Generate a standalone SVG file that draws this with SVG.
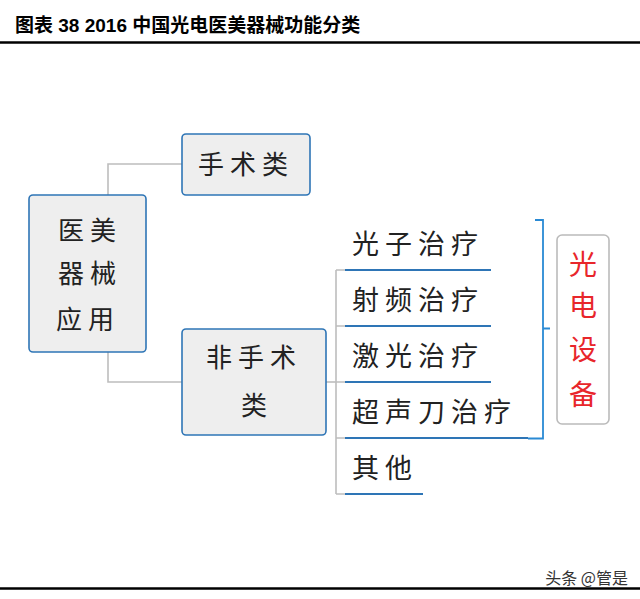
<svg xmlns="http://www.w3.org/2000/svg" width="640" height="599" viewBox="0 0 640 599">
<style>
.title{font-family:"Liberation Sans","Noto Sans CJK SC",sans-serif;font-weight:bold;font-size:19px;fill:#000}
.node rect{fill:#eeeeee;stroke:#2e75b6;stroke-width:1.6}
.t{font-family:"Noto Sans CJK SC",sans-serif;font-size:26px;fill:#222;letter-spacing:6px}
.leaf{font-family:"Noto Sans CJK SC",sans-serif;font-size:27px;fill:#222;letter-spacing:6px}
.red{font-family:"Noto Sans CJK SC",sans-serif;font-size:28px;fill:#e8262b;text-anchor:middle}
.gray{fill:none;stroke:#bdbdbd;stroke-width:1.6}
.blue{fill:none;stroke:#2e75b6;stroke-width:1.8}
.br{fill:none;stroke:#2a8ad4;stroke-width:1.8}
</style>
<rect width="640" height="599" fill="#fff"/>
<text class="title" x="15" y="32">图表 38 2016 中国光电医美器械功能分类</text>
<line x1="0" y1="42.5" x2="640" y2="42.5" stroke="#000" stroke-width="2.5"/>

<g id="connectors">
<path class="gray" d="M108 195 V164 H182"/>
<path class="gray" d="M108 352 V382 H182"/>
<path class="gray" d="M326 382 H336"/>
<path class="gray" d="M336 270 V494"/>
<path class="gray" d="M336 270 H345 M336 326 H345 M336 382 H345 M336 438 H345 M336 494 H345"/>
<path class="blue" d="M345 270 H491 M345 326 H491 M345 382 H491 M345 438 H528 M345 494 H423"/>
<path class="br" d="M535 220 H543 V438.5 H528 M543 328.5 H550"/>
</g>

<g id="n-root" class="node">
<rect x="29" y="195" width="117" height="157" rx="4"/>
<text class="t" x="58" y="240">医美</text>
<text class="t" x="58" y="283">器械</text>
<text class="t" x="56" y="329">应用</text>
</g>
<g id="n-surgical" class="node">
<rect x="182" y="134" width="128" height="61" rx="4"/>
<text class="t" x="198" y="174">手术类</text>
</g>
<g id="n-nonsurgical" class="node">
<rect x="182" y="329" width="144" height="106" rx="4"/>
<text class="t" x="206" y="367">非手术</text>
<text class="t" x="241" y="415">类</text>
</g>

<g id="n-leaf1"><text class="leaf" x="352" y="254">光子治疗</text></g>
<g id="n-leaf2"><text class="leaf" x="352" y="310">射频治疗</text></g>
<g id="n-leaf3"><text class="leaf" x="352" y="366">激光治疗</text></g>
<g id="n-leaf4"><text class="leaf" x="352" y="422">超声刀治疗</text></g>
<g id="n-leaf5"><text class="leaf" x="352" y="478">其他</text></g>

<g id="n-photo">
<rect x="557" y="235" width="52" height="189" rx="5" fill="#fff" stroke="#bbbbbb" stroke-width="1.6"/>
<text class="red" x="583" y="275">光</text>
<text class="red" x="583" y="316">电</text>
<text class="red" x="583" y="360">设</text>
<text class="red" x="583" y="405">备</text>
</g>

<text x="628" y="584" text-anchor="end" font-family="Noto Sans CJK SC,sans-serif" font-size="16" fill="#333">头条 @管是</text>
<line x1="0" y1="588.5" x2="640" y2="588.5" stroke="#000" stroke-width="2.5"/>
</svg>
